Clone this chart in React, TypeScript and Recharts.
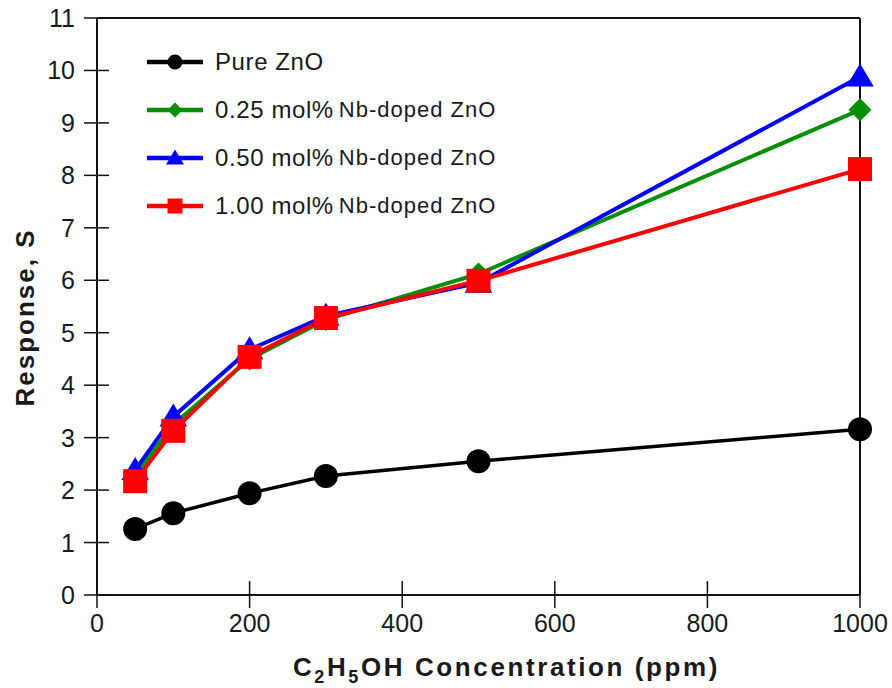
import React from 'react';
import {
  LineChart,
  Line,
  XAxis,
  YAxis,
  ReferenceLine,
} from 'recharts';

// Concentration (ppm) and response values
const concentration = [50, 100, 200, 300, 500, 1000];
const pureZnO = [1.26, 1.56, 1.94, 2.27, 2.55, 3.16];
const nb025 = [2.28, 3.25, 4.5, 5.25, 6.12, 9.25];
const nb050 = [2.38, 3.4, 4.68, 5.32, 5.95, 9.88];
const nb100 = [2.17, 3.13, 4.54, 5.28, 5.99, 8.12];

const xTicks = [0, 200, 400, 600, 800, 1000];
const yTicks = [0, 1, 2, 3, 4, 5, 6, 7, 8, 9, 10, 11];

const data = concentration.map((c, i) => ({
  c,
  pure: pureZnO[i],
  nb025: nb025[i],
  nb050: nb050[i],
  nb100: nb100[i],
}));

const FONT = '"Liberation Sans", Arial, sans-serif';
const TEXT = '#1a1a1a';

type Shape = 'circle' | 'diamond' | 'triangle' | 'square';

const series: { key: string; color: string; shape: Shape; lead: string; rest: string }[] = [
  { key: 'pure', color: '#000000', shape: 'circle', lead: 'Pure ZnO', rest: '' },
  { key: 'nb025', color: '#008f00', shape: 'diamond', lead: '0.25 mol%', rest: 'Nb-doped ZnO' },
  { key: 'nb050', color: '#0000ff', shape: 'triangle', lead: '0.50 mol%', rest: 'Nb-doped ZnO' },
  { key: 'nb100', color: '#ff0000', shape: 'square', lead: '1.00 mol%', rest: 'Nb-doped ZnO' },
];

const markerPath = (shape: Shape, cx: number, cy: number, s: number, color: string) => {
  switch (shape) {
    case 'circle':
      return <circle cx={cx} cy={cy} r={s} fill={color} />;
    case 'diamond':
      return <polygon points={`${cx},${cy - s} ${cx + s},${cy} ${cx},${cy + s} ${cx - s},${cy}`} fill={color} />;
    case 'triangle':
      return <polygon points={`${cx},${cy - s * 1.15} ${cx + s * 1.2},${cy + s * 0.85} ${cx - s * 1.2},${cy + s * 0.85}`} fill={color} />;
    default:
      return <rect x={cx - s} y={cy - s} width={s * 2} height={s * 2} fill={color} />;
  }
};

const makeDot = (shape: Shape, color: string, size: number) => (props: any) => {
  const { cx, cy, index } = props;
  if (cx == null || cy == null) return <g key={index} />;
  return <g key={index}>{markerPath(shape, cx, cy, size, color)}</g>;
};

// ticks cross the axis line on both sides, like the original plot
const XTick = (props: any) => {
  const { x, y, payload } = props;
  return (
    <g>
      <line x1={x} x2={x} y1={y - 14} y2={y + 13} stroke="#111" strokeWidth={1.5} />
      <text x={x} y={y + 37} textAnchor="middle" fontSize={25} fontFamily={FONT} fill={TEXT}>
        {payload.value}
      </text>
    </g>
  );
};

const YTick = (props: any) => {
  const { x, y, payload } = props;
  return (
    <g>
      <line x1={x - 13} x2={x + 12} y1={y} y2={y} stroke="#111" strokeWidth={1.5} />
      <text x={x - 22} y={y + 9} textAnchor="end" fontSize={25} fontFamily={FONT} fill={TEXT}>
        {payload.value}
      </text>
    </g>
  );
};

const ChartLegend = () => (
  <div style={{ position: 'absolute', left: 147, top: 38, fontFamily: FONT, color: TEXT, whiteSpace: 'nowrap' }}>
    {series.map((s) => (
      <div key={s.key} style={{ display: 'flex', alignItems: 'center', height: 48 }}>
        <svg width={68} height={30}>
          <line x1={0} x2={56} y1={15} y2={15} stroke={s.color} strokeWidth={4.5} />
          {markerPath(s.shape, 28, 15, 7.5, s.color)}
        </svg>
        <span style={{ fontSize: 24, letterSpacing: 0.6 }}>{s.lead}</span>
        {s.rest && <span style={{ fontSize: 22, letterSpacing: 1, marginLeft: 5 }}>{s.rest}</span>}
      </div>
    ))}
  </div>
);

const XLabel = (props: any) => {
  const { viewBox } = props;
  const cx = viewBox.x + viewBox.width / 2 + 28;
  return (
    <text
      x={cx}
      y={viewBox.y + 81}
      textAnchor="middle"
      fontSize={26}
      fontWeight="bold"
      letterSpacing={2.6}
      fontFamily={FONT}
      fill={TEXT}
    >
      C<tspan fontSize={18} dy={7}>2</tspan>
      <tspan dy={-7}>H</tspan>
      <tspan fontSize={18} dy={7}>5</tspan>
      <tspan dy={-7}>OH Concentration (ppm)</tspan>
    </text>
  );
};

const YLabel = (props: any) => {
  const { viewBox } = props;
  const cy = viewBox.y + viewBox.height / 2 + 11;
  return (
    <text
      x={25}
      y={cy}
      textAnchor="middle"
      fontSize={26}
      fontWeight="bold"
      letterSpacing={2}
      fontFamily={FONT}
      fill={TEXT}
      transform={`rotate(-90, 25, ${cy})`}
      dy={9}
    >
      Response, S
    </text>
  );
};

export default function App() {
  return (
    <div style={{ position: 'absolute', left: 0, top: 0, width: 892, height: 688, background: '#fff' }}>
      <LineChart width={892} height={688} data={data} margin={{ top: 18, right: 32, bottom: 33, left: 37 }}>
        <XAxis
          dataKey="c"
          type="number"
          domain={[0, 1000]}
          ticks={xTicks}
          interval={0}
          height={60}
          tickSize={0}
          tickMargin={0}
          tickLine={false}
          tick={<XTick />}
          axisLine={{ stroke: '#111', strokeWidth: 2 }}
          label={<XLabel />}
        />
        <YAxis
          type="number"
          domain={[0, 11]}
          ticks={yTicks}
          interval={0}
          width={60}
          tickSize={0}
          tickMargin={0}
          tickLine={false}
          tick={<YTick />}
          axisLine={{ stroke: '#111', strokeWidth: 2 }}
          label={<YLabel />}
        />
        <ReferenceLine y={11} stroke="#111" strokeWidth={2} />
        <ReferenceLine x={1000} stroke="#111" strokeWidth={2} />
        <Line
          dataKey="pure"
          type="linear"
          stroke="#000"
          strokeWidth={3.5}
          dot={makeDot('circle', '#000', 12)}
          activeDot={false}
          isAnimationActive={false}
        />
        <Line
          dataKey="nb025"
          type="linear"
          stroke="#008f00"
          strokeWidth={4}
          dot={makeDot('diamond', '#008f00', 11.5)}
          activeDot={false}
          isAnimationActive={false}
        />
        <Line
          dataKey="nb050"
          type="linear"
          stroke="#0000ff"
          strokeWidth={4}
          dot={makeDot('triangle', '#0000ff', 11.5)}
          activeDot={false}
          isAnimationActive={false}
        />
        <Line
          dataKey="nb100"
          type="linear"
          stroke="#ff0000"
          strokeWidth={4}
          dot={makeDot('square', '#ff0000', 12)}
          activeDot={false}
          isAnimationActive={false}
        />
      </LineChart>
      <ChartLegend />
    </div>
  );
}
